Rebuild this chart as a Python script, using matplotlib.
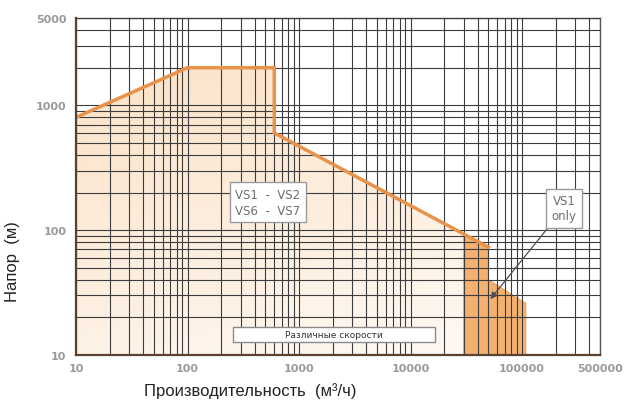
import numpy as np
import matplotlib
matplotlib.use('Agg')
import matplotlib.pyplot as plt
import matplotlib.ticker as ticker
from matplotlib.patches import Polygon, Rectangle
from matplotlib.colors import to_rgb

plt.rcParams['font.family'] = ['DejaVu Sans']

# Operating envelope for variable speed pumps (VS1 - VS2, VS6 - VS7)
env_flow = [10, 100, 600, 600, 50000]
env_head = [800, 2000, 2000, 600, 73]

# Extended zone covered by VS1 only
vs1_flow = [30000, 30000, 50000, 50000, 100000, 108000, 108000]
vs1_head = [10, 93, 73, 40, 27, 26, 10]

arrow_target = (52000, 28)

x_ticks = [10, 100, 1000, 10000, 100000, 500000]
y_ticks = [10, 100, 1000, 5000]

fig = plt.figure(figsize=(6.24, 4.06), dpi=100)
ax = fig.add_axes([76 / 624, 1 - 356 / 406, 524 / 624, 337 / 406])
ax.set_xscale('log')
ax.set_yscale('log')
ax.set_xlim(10, 500000)
ax.set_ylim(10, 5000)

# light filled envelope with a soft gradient
env_poly = Polygon(list(zip(env_flow, env_head)) + [(env_flow[-1], 10), (env_flow[0], 10)],
                   closed=True, facecolor='none', edgecolor='none')
ax.add_patch(env_poly)
ny, nx = 200, 200
gy = np.linspace(1, 0, ny)[:, None]
gx = np.linspace(0, 1, nx)[None, :]
strength = np.clip(0.22 + 0.32 * gy - 0.15 * gx, 0, 1)
peach = np.array(to_rgb('#f7c58f'))
img = 1 - strength[..., None] * (1 - peach)[None, None, :]
im = ax.imshow(img, extent=(0, 1, 0, 1), transform=ax.transAxes, aspect='auto',
               zorder=0.8, interpolation='bilinear')
im.set_clip_path(env_poly)

vs1_poly = Polygon(list(zip(vs1_flow, vs1_head)), closed=True,
                   facecolor='#f2a961', edgecolor='#eb9c52', lw=0.8, alpha=0.9, zorder=1)
ax.add_patch(vs1_poly)

ax.plot(env_flow, env_head, color='#e8924a', lw=2.5, solid_joinstyle='miter', zorder=3)

# log grid
ax.xaxis.set_minor_locator(ticker.LogLocator(base=10, subs=np.arange(2, 10), numticks=50))
ax.yaxis.set_minor_locator(ticker.LogLocator(base=10, subs=np.arange(2, 10), numticks=50))
ax.xaxis.set_minor_formatter(ticker.NullFormatter())
ax.yaxis.set_minor_formatter(ticker.NullFormatter())
ax.set_axisbelow(False)
ax.grid(which='both', color='#3c3c3c', lw=0.8)

ax.set_xticks(x_ticks)
ax.set_xticklabels([str(v) for v in x_ticks])
ax.set_yticks(y_ticks)
ax.set_yticklabels([str(v) for v in y_ticks])
ax.tick_params(which='both', length=0)
ax.tick_params(axis='x', pad=6, labelsize=8, labelcolor='#9a9a9a')
ax.tick_params(axis='y', pad=7, labelsize=8, labelcolor='#9a9a9a')
for lbl in ax.get_xticklabels() + ax.get_yticklabels():
    lbl.set_fontweight('bold')

for side in ['top', 'right']:
    ax.spines[side].set_color('#555555')
    ax.spines[side].set_linewidth(1.0)
for side in ['left', 'bottom']:
    ax.spines[side].set_color('#5a4230')
    ax.spines[side].set_linewidth(1.6)
    ax.spines[side].set_zorder(4)

ax.set_xlabel('Производительность  (м³/ч)', family='Liberation Sans', fontsize=12, color='#222222')
ax.xaxis.set_label_coords(0.332, -0.08)
ax.set_ylabel('Напор  (м)', family='Liberation Sans', fontsize=12, color='#222222')
ax.yaxis.set_label_coords(-0.107, 0.28)

box_style = dict(boxstyle='square,pad=0.45', facecolor='white', edgecolor='#9a9a9a', lw=1.0)
ax.text(0.366, 0.454, 'VS1  -  VS2\nVS6  -  VS7', transform=ax.transAxes, ha='center', va='center',
        fontsize=8.5, color='#6e6e6e', linespacing=1.3, bbox=box_style, zorder=5)

ax.annotate('VS1\nonly', xy=arrow_target, xycoords='data',
            xytext=(0.931, 0.436), textcoords='axes fraction', ha='center', va='center',
            fontsize=8.5, color='#6e6e6e', linespacing=1.25, bbox=box_style, zorder=5,
            arrowprops=dict(arrowstyle='-|>', color='#4a5060', lw=0.9, mutation_scale=10,
                            shrinkA=0, shrinkB=0))

ax.add_patch(Rectangle((0.2996, 0.0386), 0.3854, 0.0445, transform=ax.transAxes,
                       facecolor='white', edgecolor='#8a8a8a', lw=1.0, zorder=5))
ax.text(0.492, 0.061, 'Различные скорости', transform=ax.transAxes, ha='center', va='center',
        fontsize=6.5, color='#333333', zorder=6)

fig.savefig('out.png', dpi=100)
